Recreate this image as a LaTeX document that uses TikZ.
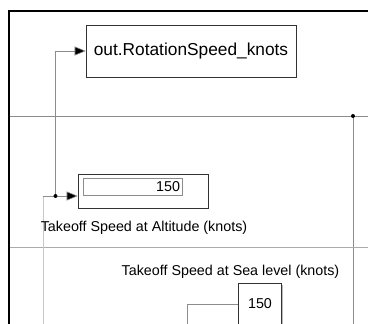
\documentclass[tikz,border=0pt]{standalone}
\usepackage{fontspec}
\setmainfont{Liberation Sans}
\usetikzlibrary{arrows.meta,shadows}
\definecolor{wire}{HTML}{8C8C8C}
\definecolor{wirelight}{HTML}{C8C8C8}
\definecolor{wiremid}{HTML}{ABABAB}
\tikzset{
  blockbox/.style={draw=black!80, line width=0.6pt, fill=white, inner sep=0pt,
    drop shadow={shadow xshift=1.3pt, shadow yshift=-1.3pt, fill=black!45, opacity=0.6}},
  signal/.style={draw=wire, line width=0.6pt},
  feed/.style={signal, -{Triangle[length=11pt,width=9pt,fill=black]}},
  junction/.style={circle, fill=black, inner sep=0pt, minimum size=4pt},
  caption/.style={font=\fontsize{14.3}{16}\selectfont, inner sep=0pt}
}
\begin{document}
\begin{tikzpicture}[x=1pt,y=-1pt]
\useasboundingbox (0,0) rectangle (368,324);
\fill[white] (0,0) rectangle (368,324);

% wire coordinates
\coordinate (bus) at (10,116);
\coordinate (busR) at (368,116);
\coordinate (tap) at (353,116);
\coordinate (tapEnd) at (353,324);
\coordinate (lowbus) at (10,247);
\coordinate (lowbusR) at (368,247);
\coordinate (j1) at (55.5,196);
\coordinate (inL) at (43,196);
\coordinate (inLEnd) at (43,324);
\coordinate (up) at (55.5,51);
\coordinate (seaIn) at (187,304);
\coordinate (seaInEnd) at (187,324);

% background wires
\draw[draw=wire, line width=0.6pt] (bus) -- (busR);
\draw[signal] (tap) -- (tapEnd);
\draw[draw=wiremid, line width=0.6pt] (lowbus) -- (lowbusR);
\draw[draw=wirelight, line width=0.9pt] (inLEnd) -- (inL);

% subsystem frame
\draw[line width=2pt, line cap=rect] (368,11) -- (9,11) -- (9,324);

% blocks
\node[blockbox, minimum width=210pt, minimum height=52pt,
      font=\fontsize{17.3}{20}\selectfont] (rot) at (191,51) {out.RotationSpeed\_knots};
\node[blockbox, minimum width=130pt, minimum height=34pt] (alt) at (143,191) {};
\node[draw=black!45, line width=0.5pt, fill=white, minimum width=99pt, minimum height=17pt,
      inner sep=0pt] (field) at (132.5,186.5) {};
\node[caption, anchor=east] (altval) at ([xshift=-2pt]field.east) {150};
\node[caption, anchor=north] (altlab) at (144,221) {Takeoff Speed at Altitude (knots)};

\node[caption] (sealab) at (230.5,272) {Takeoff Speed at Sea level (knots)};
\node[blockbox, minimum width=43pt, minimum height=50pt, anchor=north west] (sea) at (238,283) {};
\node[caption] (seaval) at (260,304) {150};

% connectors between blocks
\draw[feed] (inL) -- (alt.west |- inL);
\draw[feed] (j1) -- (up) -- (rot.west |- up);
\draw[signal] (seaInEnd) -- (seaIn) -- (sea.west |- seaIn);

\node[junction] (dot1) at (j1) {};
\node[junction] (dot2) at (tap) {};
\end{tikzpicture}
\end{document}
